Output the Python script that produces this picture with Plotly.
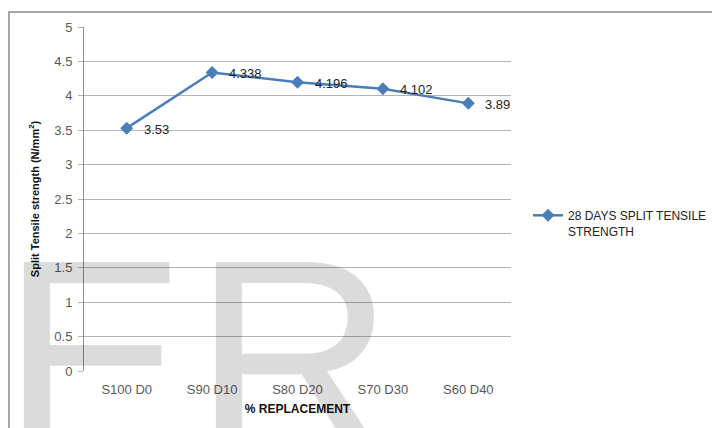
import plotly.graph_objects as go

categories = ["S100 D0", "S90 D10", "S80 D20", "S70 D30", "S60 D40"]
strength = [3.53, 4.338, 4.196, 4.102, 3.89]
labels = ["3.53", "4.338", "4.196", "4.102", "3.89"]
series_name = "28 DAYS SPLIT TENSILE<br>STRENGTH"
watermark = [("E", -1.3), ("R", 191.0)]

BLUE = "#4a7ebb"
FONT = "Liberation Sans"

fig = go.Figure()
fig.add_trace(go.Scatter(
    x=categories, y=strength, mode="lines+markers",
    name=series_name,
    line=dict(color=BLUE, width=2.5),
    marker=dict(symbol="diamond", size=10, color=BLUE),
    cliponaxis=False,
))

annotations = []
for letter, px in watermark:
    annotations.append(dict(text=letter, xref="paper", yref="paper",
                            x=(px - 84) / 427, y=(371 - 199) / 344,
                            xanchor="left", yanchor="top", showarrow=False,
                            font=dict(family=FONT, size=279, color="rgba(0,0,0,0.14)")))
for c, v, t in zip(categories, strength, labels):
    annotations.append(dict(x=c, y=v, xref="x", yref="y", text=t,
                            xanchor="left", yanchor="middle", xshift=15, yshift=-1,
                            showarrow=False,
                            font=dict(family=FONT, size=13, color="#222222")))

fig.update_layout(
    width=712, height=428,
    margin=dict(l=84, r=201, t=27, b=57, autoexpand=False),
    paper_bgcolor="white", plot_bgcolor="rgba(0,0,0,0)",
    font=dict(family=FONT, size=13, color="#595959"),
    showlegend=True,
    legend=dict(x=(528 - 84) / 427, y=(371 - 201) / 344, xanchor="left", yanchor="top",
                valign="top", font=dict(family=FONT, size=12, color="#222222"),
                bgcolor="rgba(0,0,0,0)", itemwidth=30),
    xaxis=dict(
        type="category", showgrid=False, showline=False, zeroline=False,
        ticks="", tickfont=dict(size=13, color="#595959"), ticklabelstandoff=9,
        title=dict(text="<b>% REPLACEMENT</b>", font=dict(size=12, color="#111111"), standoff=8),
        range=[-0.5, 4.5],
    ),
    yaxis=dict(
        range=[0, 5], dtick=0.5, showgrid=True, gridcolor="#b4b4b4", gridwidth=1,
        showline=True, linecolor="#8c8c8c", linewidth=1, zeroline=False,
        ticks="outside", ticklen=5, tickcolor="#b4b4b4", ticklabelstandoff=3,
        tickfont=dict(size=13, color="#595959"),
        title=dict(text="<b>Split Tensile strength (N/mm<sup>2</sup>)</b>",
                   font=dict(size=11, color="#111111"), standoff=12),
    ),
    shapes=[dict(type="rect", xref="paper", yref="paper",
                 x0=(9 - 84) / 427, x1=(730 - 84) / 427,
                 y0=(371 - 450) / 344, y1=(371 - 12) / 344,
                 line=dict(color="#898989", width=1.5), layer="below")],
    annotations=annotations,
)

fig.write_html("out.html")
